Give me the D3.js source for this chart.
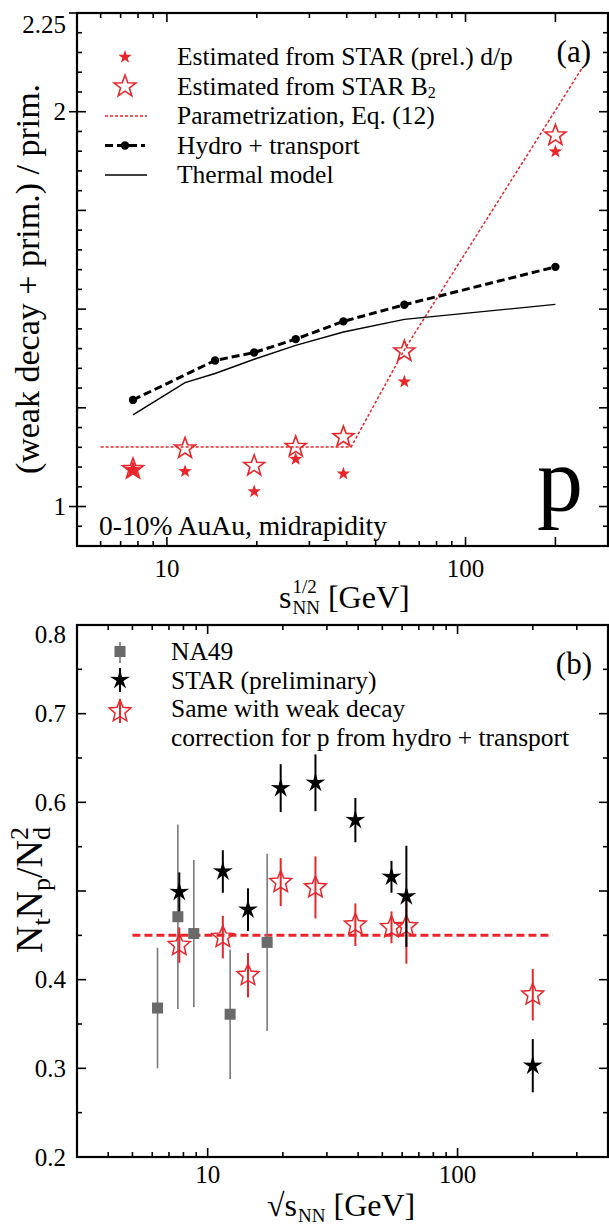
<!DOCTYPE html>
<html><head><meta charset="utf-8">
<script src="https://cdn.jsdelivr.net/npm/d3@7"></script>
<style>
body{margin:0;background:#fff}
svg{display:block}
text{font-family:"Liberation Serif","Times New Roman",serif;fill:#000}
</style>
</head><body>
<svg id="c" width="609" height="1226"></svg>
<script>
// ---------------- DATA: panel (a) ----------------
const dpEnergies = [7.7, 11.5, 19.6, 27, 39, 62.4, 200];
const dpValues   = [1.092, 1.089, 1.038, 1.120, 1.083, 1.316, 1.899];
const b2Energies = [7.7, 11.5, 19.6, 27, 39, 62.4, 200];
const b2Values   = [1.095, 1.147, 1.103, 1.151, 1.176, 1.393, 1.940];
const paramEnergies = [6, 41.4, 62.4, 245];
const paramValues   = [1.151, 1.151, 1.397, 2.109];
const hydroEnergies = [7.7, 14.5, 19.6, 27, 39, 62.4, 200];
const hydroValues   = [1.270, 1.370, 1.390, 1.424, 1.469, 1.511, 1.607];
const thermalEnergies = [7.7, 11.5, 14.5, 19.6, 27, 39, 62.4, 200];
const thermalValues   = [1.232, 1.314, 1.337, 1.373, 1.408, 1.442, 1.474, 1.512];
const yTickLabelsA = ["1", "2", "2.25"];
const yMajorA = [1, 1.25, 1.5, 1.75, 2, 2.25];
const xTickLabelsA = ["10", "100"];
const legendA = ["Estimated from STAR (prel.) d/p", "Estimated from STAR B", "Parametrization, Eq. (12)", "Hydro + transport", "Thermal model"];

// ---------------- DATA: panel (b) ----------------
const na49Energies = [6.3, 7.6, 8.8, 12.3, 17.3];
const na49Values   = [0.368, 0.471, 0.452, 0.361, 0.442];
const na49Errors   = [0.068, 0.104, 0.083, 0.073, 0.100];
const starEnergies = [7.7, 11.5, 14.5, 19.6, 27, 39, 54.4, 62.4, 200];
const starValues   = [0.499, 0.522, 0.479, 0.616, 0.622, 0.580, 0.516, 0.494, 0.303];
const starErrors   = [0.022, 0.024, 0.024, 0.027, 0.032, 0.025, 0.018, 0.057, 0.030];
const corrValues   = [0.439, 0.448, 0.405, 0.510, 0.504, 0.462, 0.459, 0.460, 0.383];
const corrErrors   = [0.020, 0.024, 0.025, 0.027, 0.035, 0.024, 0.018, 0.042, 0.029];
const refLineEnergies = [5, 240];
const refLineValue = 0.45;
const yTickLabelsB = ["0.2", "0.3", "0.4", "0.6", "0.7", "0.8"];
const yMajorB = [0.2, 0.3, 0.4, 0.5, 0.6, 0.7, 0.8];
const xTickLabelsB = ["10", "100"];
const legendB = ["NA49", "STAR (preliminary)", "Same with weak decay", "correction for p from hydro + transport"];

const RED = "#e8262b";
const svg = d3.select("#c");

function starPath(n, R, r) {
  let p = "";
  for (let i = 0; i < 2 * n; i++) {
    const a = Math.PI * i / n - Math.PI / 2;
    const rad = i % 2 ? r : R;
    p += (i ? "L" : "M") + (rad * Math.cos(a)).toFixed(2) + "," + (rad * Math.sin(a)).toFixed(2);
  }
  return p + "Z";
}

function frameAndTicks(g, x, y, xMajor, xMinor, yMajor, yMinor) {
  const [x0, x1] = x.range(), [y0, y1] = y.range(); // y0 bottom, y1 top
  const t = g.append("g").attr("stroke", "#000").attr("stroke-width", 1.6);
  const addX = (vals, len) => vals.forEach(v => {
    const px = x(v);
    t.append("line").attr("x1", px).attr("x2", px).attr("y1", y0).attr("y2", y0 - len);
    t.append("line").attr("x1", px).attr("x2", px).attr("y1", y1).attr("y2", y1 + len);
  });
  const addY = (vals, len) => vals.forEach(v => {
    const py = y(v);
    t.append("line").attr("x1", x0).attr("x2", x0 + len).attr("y1", py).attr("y2", py);
    t.append("line").attr("x1", x1).attr("x2", x1 - len).attr("y1", py).attr("y2", py);
  });
  addX(xMajor, 9); addX(xMinor, 5);
  addY(yMajor, 9); addY(yMinor, 5);
  g.append("rect").attr("x", x0).attr("y", y1).attr("width", x1 - x0).attr("height", y0 - y1)
    .attr("fill", "none").attr("stroke", "#000").attr("stroke-width", 2.2);
}

// ================= PANEL A =================
const xA = d3.scaleLog().domain([5, 300]).range([77, 608]);
const yA = d3.scaleLinear().domain([0.9, 2.25]).range([546, 13]);
const gA = svg.append("g");

const minorA = [6, 7, 8, 9, 20, 30, 40, 50, 60, 70, 80, 90];
const yMinorA = d3.range(0.9, 2.2501, 0.05).filter(v => !yMajorA.some(m => Math.abs(m - v) < 1e-6));
frameAndTicks(gA, xA, yA, [10, 100, 200], minorA, yMajorA, yMinorA);
// outward ticks on labelled values
yTickLabelsA.forEach(s => {
  gA.append("line").attr("x1", 77).attr("x2", 69).attr("y1", yA(+s)).attr("y2", yA(+s))
    .attr("stroke", "#000").attr("stroke-width", 1.6);
});
yTickLabelsA.forEach(s => {
  const v = +s;
  gA.append("text").attr("x", 66).attr("y", yA(v) + (v === 2.25 ? 20 : 8.5))
    .attr("text-anchor", "end").attr("font-size", 25).text(s);
});
xTickLabelsA.forEach(s => {
  gA.append("text").attr("x", xA(+s)).attr("y", 577).attr("text-anchor", "middle")
    .attr("font-size", 25).text(s);
});

// lines
const lineA = d3.line().x(d => xA(d[0])).y(d => yA(d[1]));
gA.append("path").attr("d", lineA(thermalEnergies.map((e, i) => [e, thermalValues[i]])))
  .attr("fill", "none").attr("stroke", "#000").attr("stroke-width", 1.4);
gA.append("path").attr("d", lineA(hydroEnergies.map((e, i) => [e, hydroValues[i]])))
  .attr("fill", "none").attr("stroke", "#000").attr("stroke-width", 3).attr("stroke-dasharray", "8,4");
gA.selectAll(".hd").data(hydroEnergies).enter().append("circle")
  .attr("cx", d => xA(d)).attr("cy", (d, i) => yA(hydroValues[i])).attr("r", 4.2).attr("fill", "#000");
gA.append("path").attr("d", lineA(paramEnergies.map((e, i) => [e, paramValues[i]])))
  .attr("fill", "none").attr("stroke", RED).attr("stroke-width", 1.5).attr("stroke-dasharray", "3,2");

// stars
gA.selectAll(".b2").data(b2Energies).enter().append("path")
  .attr("d", starPath(5, 11, 4.5))
  .attr("transform", (d, i) => `translate(${xA(d)},${yA(b2Values[i])})`)
  .attr("fill", "none").attr("stroke", RED).attr("stroke-width", 1.6);
gA.selectAll(".dp").data(dpEnergies).enter().append("path")
  .attr("d", (d, i) => i === 0 ? starPath(5, 9.8, 4.0) : starPath(5, 7, 2.85))
  .attr("transform", (d, i) => `translate(${xA(d)},${yA(dpValues[i])})`)
  .attr("fill", RED);

// legend A
const legYA = [57, 86.5, 116, 145.5, 175];
const legBaseA = [65, 94.5, 124, 153.5, 183];
gA.append("path").attr("d", starPath(5, 7, 2.85)).attr("transform", `translate(125,${legYA[0]})`).attr("fill", RED);
gA.append("path").attr("d", starPath(5, 11.5, 4.7)).attr("transform", `translate(125,${legYA[1]})`)
  .attr("fill", "none").attr("stroke", RED).attr("stroke-width", 1.6);
gA.append("line").attr("x1", 105).attr("x2", 147).attr("y1", legYA[2]).attr("y2", legYA[2])
  .attr("stroke", RED).attr("stroke-width", 1.5).attr("stroke-dasharray", "3,2");
gA.append("line").attr("x1", 105).attr("x2", 145).attr("y1", legYA[3]).attr("y2", legYA[3])
  .attr("stroke", "#000").attr("stroke-width", 3).attr("stroke-dasharray", "8,4");
gA.append("circle").attr("cx", 125).attr("cy", legYA[3]).attr("r", 4.2).attr("fill", "#000");
gA.append("line").attr("x1", 105).attr("x2", 147).attr("y1", legYA[4]).attr("y2", legYA[4])
  .attr("stroke", "#000").attr("stroke-width", 1.4);
legendA.forEach((s, i) => {
  const t = gA.append("text").attr("x", 177).attr("y", legBaseA[i]).attr("font-size", 25.5).text(s);
  if (i === 1) t.append("tspan").attr("font-size", 16).attr("dy", 3.5).text("2");
});

gA.append("text").attr("x", 591).attr("y", 62).attr("text-anchor", "end").attr("font-size", 31).text("(a)");
gA.append("text").attr("x", 583).attr("y", 511).attr("text-anchor", "end").attr("font-size", 92).text("p");
gA.append("text").attr("x", 99).attr("y", 535).attr("font-size", 27.5).text("0-10% AuAu, midrapidity");

// y title A
gA.append("text").attr("transform", "translate(39,279) rotate(-90)").attr("text-anchor", "middle")
  .attr("font-size", 34).text("(weak decay + prim.) / prim.");
// x title A
{
  const g = gA.append("g");
  let x0 = 279, base = 608;
  const s = g.append("text").attr("x", x0).attr("y", base).attr("font-size", 32).text("s");
  const w = s.node().getComputedTextLength();
  const sup = g.append("text").attr("x", x0 + w + 1).attr("y", base - 15).attr("font-size", 19).text("1/2");
  const sub = g.append("text").attr("x", x0 + w + 1).attr("y", base + 6).attr("font-size", 19).text("NN");
  const w2 = Math.max(sup.node().getComputedTextLength(), sub.node().getComputedTextLength());
  g.append("text").attr("x", x0 + w + 1 + w2 + 8).attr("y", base).attr("font-size", 32).text("[GeV]");
}

// ================= PANEL B =================
const xB = d3.scaleLog().domain([3, 400]).range([77, 608]);
const yB = d3.scaleLinear().domain([0.2, 0.8]).range([1157, 625]);
const gB = svg.append("g");
const minorB = [4, 5, 6, 7, 8, 9, 20, 30, 40, 50, 60, 70, 80, 90, 200, 300];
const yMinorB = [0.25, 0.35, 0.45, 0.55, 0.65, 0.75];
frameAndTicks(gB, xB, yB, [10, 100], minorB, yMajorB, yMinorB);
yTickLabelsB.forEach(s => {
  const v = +s;
  gB.append("text").attr("x", 66).attr("y", yB(v) + (v === 0.8 ? 18 : 8.5))
    .attr("text-anchor", "end").attr("font-size", 25).text(s);
});
xTickLabelsB.forEach(s => {
  gB.append("text").attr("x", xB(+s)).attr("y", 1183).attr("text-anchor", "middle")
    .attr("font-size", 25).text(s);
});

// reference dashed line
gB.append("line").attr("x1", xB(refLineEnergies[0])).attr("x2", xB(refLineEnergies[1]))
  .attr("y1", yB(refLineValue)).attr("y2", yB(refLineValue))
  .attr("stroke", RED).attr("stroke-width", 3).attr("stroke-dasharray", "8,4");

// NA49
na49Energies.forEach((e, i) => {
  gB.append("line").attr("x1", xB(e)).attr("x2", xB(e))
    .attr("y1", yB(na49Values[i] - na49Errors[i])).attr("y2", yB(na49Values[i] + na49Errors[i]))
    .attr("stroke", "#7a7a7a").attr("stroke-width", 1.6);
  gB.append("rect").attr("x", xB(e) - 5.5).attr("y", yB(na49Values[i]) - 5.5)
    .attr("width", 11).attr("height", 11).attr("fill", "#6a6a6a");
});
// corrected (red open)
const openStar = starPath(5, 11.5, 5.2);
const fullStar = starPath(5, 10.5, 3.6);
starEnergies.forEach((e, i) => {
  gB.append("line").attr("x1", xB(e)).attr("x2", xB(e))
    .attr("y1", yB(corrValues[i] - corrErrors[i])).attr("y2", yB(corrValues[i] + corrErrors[i]))
    .attr("stroke", RED).attr("stroke-width", 2);
  gB.append("path").attr("d", openStar).attr("transform", `translate(${xB(e)},${yB(corrValues[i])})`)
    .attr("fill", "none").attr("stroke", RED).attr("stroke-width", 1.5);
});
// STAR (black)
starEnergies.forEach((e, i) => {
  gB.append("line").attr("x1", xB(e)).attr("x2", xB(e))
    .attr("y1", yB(starValues[i] - starErrors[i])).attr("y2", yB(starValues[i] + starErrors[i]))
    .attr("stroke", "#000").attr("stroke-width", 2);
  gB.append("path").attr("d", fullStar).attr("transform", `translate(${xB(e)},${yB(starValues[i])})`)
    .attr("fill", "#000");
});

// legend B
const legYB = [651.5, 680, 711.5];
const legBaseB = [660, 688.5, 717, 745.5];
gB.append("line").attr("x1", 120).attr("x2", 120).attr("y1", 642).attr("y2", 663).attr("stroke", "#7a7a7a").attr("stroke-width", 1.6);
gB.append("rect").attr("x", 114.5).attr("y", legYB[0] - 5.5).attr("width", 11).attr("height", 11).attr("fill", "#6a6a6a");
gB.append("line").attr("x1", 120).attr("x2", 120).attr("y1", 668).attr("y2", 692).attr("stroke", "#000").attr("stroke-width", 2);
gB.append("path").attr("d", fullStar).attr("transform", `translate(120,${legYB[1]})`).attr("fill", "#000");
gB.append("line").attr("x1", 120).attr("x2", 120).attr("y1", 699).attr("y2", 723).attr("stroke", RED).attr("stroke-width", 2);
gB.append("path").attr("d", openStar).attr("transform", `translate(120,${legYB[2]})`)
  .attr("fill", "none").attr("stroke", RED).attr("stroke-width", 1.5);
legendB.forEach((s, i) => {
  gB.append("text").attr("x", 171).attr("y", legBaseB[i]).attr("font-size", 25.5).text(s);
});
gB.append("text").attr("x", 592).attr("y", 674).attr("text-anchor", "end").attr("font-size", 31).text("(b)");

// y title B
{
  const t = gB.append("text").attr("transform", "translate(42,890) rotate(-90)").attr("text-anchor", "middle").attr("font-size", 38);
  t.append("tspan").text("N");
  t.append("tspan").attr("font-size", 26).attr("dy", 8).text("t");
  t.append("tspan").attr("dy", -8).text("N");
  t.append("tspan").attr("font-size", 26).attr("dy", 8).text("p");
  t.append("tspan").attr("dy", -8).text("/N");
  t.append("tspan").attr("font-size", 26).attr("dy", 8).text("d");
  t.append("tspan").attr("font-size", 26).attr("dx", -13).attr("dy", -22).text("2");
}
// x title B
{
  const g = gB.append("g");
  let x0 = 267, base = 1216;
  const s = g.append("text").attr("x", x0).attr("y", base).attr("font-size", 32).text("\u221As");
  const w = s.node().getComputedTextLength();
  const sub = g.append("text").attr("x", x0 + w + 1).attr("y", base + 6).attr("font-size", 19).text("NN");
  const w2 = sub.node().getComputedTextLength();
  g.append("text").attr("x", x0 + w + 1 + w2 + 8).attr("y", base).attr("font-size", 32).text("[GeV]");
}
</script>
</body></html>
